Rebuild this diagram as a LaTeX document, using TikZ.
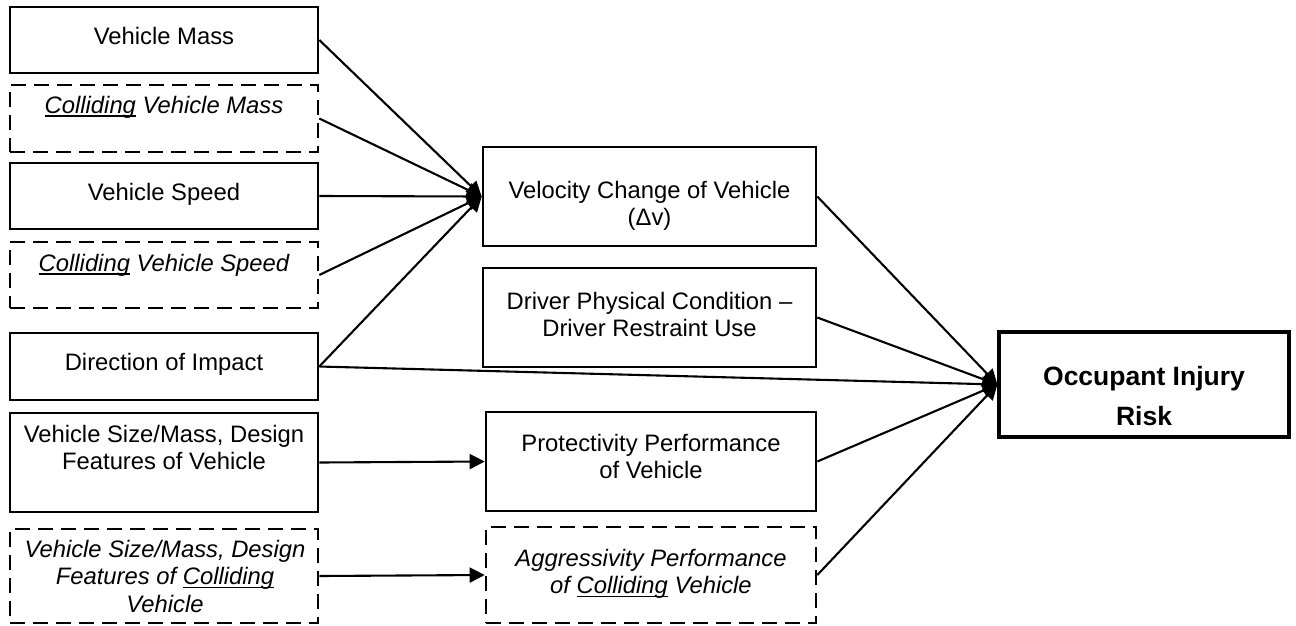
\documentclass[tikz,border=0pt]{standalone}
\usepackage{fontspec}
\setmainfont{Liberation Sans}
\usetikzlibrary{arrows.meta}
\newcommand\uln[1]{\setbox0\hbox{#1}\rlap{\rule[-3.6pt]{\wd0}{1.6pt}}\box0\relax}
\newcommand\ml[1]{\begin{tabular}[t]{@{}c@{}}#1\end{tabular}}
\begin{document}
\begin{tikzpicture}[x=1pt,y=-1pt,
  box/.style={draw, line width=2.6pt, inner sep=0pt},
  sbox/.style={box},
  dbox/.style={box, dash pattern=on 15pt off 8pt},
  lbl/.style={anchor=base, inner sep=0pt, align=center, font=\fontsize{23.8}{27.5}\selectfont},
  ilbl/.style={lbl, font=\itshape\fontsize{23.8}{27.5}\selectfont},
  conn/.style={line width=2.1pt, -{Triangle[length=15pt,width=15pt]}}]
\useasboundingbox (0,0) rectangle (1296,625);
% left column
\node[sbox, minimum width=308pt, minimum height=66pt] (b1) at (164,40) {};
\node[dbox, minimum width=308pt, minimum height=67pt] (b2) at (164,118.5) {};
\node[sbox, minimum width=308pt, minimum height=66pt] (b3) at (164,196) {};
\node[dbox, minimum width=308pt, minimum height=66pt] (b4) at (164,275) {};
\node[sbox, minimum width=308pt, minimum height=67pt] (b5) at (164,366.5) {};
\node[sbox, minimum width=308pt, minimum height=99pt] (b6) at (164,462.5) {};
\node[dbox, minimum width=308pt, minimum height=94pt] (b7) at (164,576) {};
\node[lbl] (t1) at (164,44) {Vehicle Mass};
\node[ilbl] (t2) at (164,113) {\uln{Colliding} Vehicle Mass};
\node[lbl] (t3) at (164,200) {Vehicle Speed};
\node[ilbl] (t4) at (164,271) {\uln{Colliding} Vehicle Speed};
\node[lbl] (t5) at (164,370) {Direction of Impact};
\node[lbl] (t6) at (164,442) {\ml{Vehicle Size/Mass, Design\\Features of Vehicle}};
\node[ilbl] (t7) at (165,557) {\ml{Vehicle Size/Mass, Design\\Features of \uln{Colliding}\\Vehicle}};
% middle column
\node[sbox, minimum width=333pt, minimum height=99pt] (v) at (649.5,196.5) {};
\node[sbox, minimum width=333pt, minimum height=99pt] (d) at (649.5,317.5) {};
\node[sbox, minimum width=330pt, minimum height=99pt] (p) at (651,461.5) {};
\node[dbox, minimum width=330pt, minimum height=96pt] (a) at (651,575) {};
\node[lbl] (tv) at (649.5,198) {\ml{Velocity Change of Vehicle\\(Δv)}};
\node[lbl] (td) at (649.5,309) {\ml{Driver Physical Condition –\\Driver Restraint Use}};
\node[lbl] (tp) at (651,451) {\ml{Protectivity Performance\\of Vehicle}};
\node[ilbl] (ta) at (651,566) {\ml{Aggressivity Performance\\of \uln{Colliding} Vehicle}};
% right
\node[box, line width=3.2pt, minimum width=290pt, minimum height=105pt] (o) at (1144,384.5) {};
\node[lbl, font=\bfseries\fontsize{26.5}{40}\selectfont] (to) at (1144,385) {\ml{Occupant Injury\\Risk}};
% connectors
\draw[conn] (b1.east) -- (v.west);
\draw[conn] (b2.east) -- (v.west);
\draw[conn] (b3.east) -- (v.west);
\draw[conn] (b4.east) -- (v.west);
\draw[conn] (b5.east) -- (v.west);
\draw[conn] (b5.east) -- (o.west);
\draw[conn] (b6.east) -- (p.west);
\draw[conn] (b7.east) -- (a.west);
\draw[conn] (v.east) -- (o.west);
\draw[conn] (d.east) -- (o.west);
\draw[conn] (p.east) -- (o.west);
\draw[conn] (a.east) -- (o.west);
\end{tikzpicture}
\end{document}
